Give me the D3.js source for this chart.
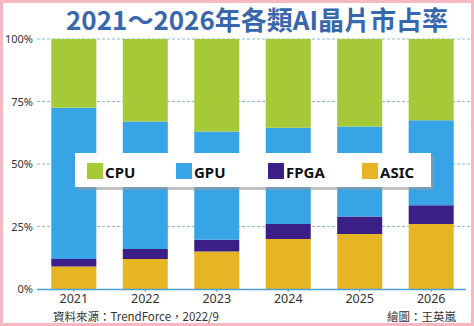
<!DOCTYPE html>
<html>
<head>
<meta charset="utf-8">
<script src="https://cdn.jsdelivr.net/npm/d3@7"></script>
<style>
  body { margin: 0; background: #fff; }
  svg { display: block; }
</style>
</head>
<body>
<div id="vis-container"></div>
<script>
var years = ["2021", "2022", "2023", "2024", "2025", "2026"];
var asic = [9, 12, 15, 20, 22, 26];
var fpga = [3, 4, 4.7, 6, 7, 7.5];
var gpu = [60.5, 51, 43.3, 38.5, 36, 34];
var cpu = [27.5, 33, 37, 35.5, 35, 32.5];
var seriesNames = ["ASIC", "FPGA", "GPU", "CPU"];
var legendNames = ["CPU", "GPU", "FPGA", "ASIC"];
var yTicks = [0, 25, 50, 75, 100];

var colors = { CPU: "#a6ca37", GPU: "#37a4e6", FPGA: "#3b1f86", ASIC: "#e6b524" };

var W = 474, H = 326;
var svg = d3.select("#vis-container").append("svg")
  .attr("width", W).attr("height", H);

// pink frame
svg.append("rect").attr("x", 1.5).attr("y", 1.5).attr("width", W - 3).attr("height", H - 3)
  .attr("fill", "none").attr("stroke", "#f6b9c2").attr("stroke-width", 3);

svg.append("text")
  .attr("x", 257).attr("y", 30)
  .attr("text-anchor", "middle")
  .style("font-family", "'Noto Sans CJK TC', sans-serif")
  .style("font-weight", "bold")
  .style("font-size", "26px")
  .style("fill", "#3767ad")
  .text("2021～2026年各類AI晶片市占率");

var xScale = d3.scaleBand().domain(years).range([37, 468]).paddingInner(0.37).paddingOuter(0.2);
var yScale = d3.scaleLinear().domain([0, 100]).range([289, 39]);

// gridlines
svg.append("g").selectAll("line").data(yTicks.slice(1)).enter().append("line")
  .attr("x1", 37).attr("x2", 470)
  .attr("y1", function(d) { return yScale(d); })
  .attr("y2", function(d) { return yScale(d); })
  .attr("stroke", "#8fb8d8").attr("stroke-width", 1).attr("stroke-dasharray", "3,2");

// y tick labels
svg.append("g").selectAll("text").data(yTicks).enter().append("text")
  .attr("x", 33).attr("y", function(d) { return yScale(d) + 4; })
  .attr("text-anchor", "end")
  .style("font-family", "'Noto Sans', sans-serif")
  .style("font-size", "11px")
  .style("fill", "#333")
  .text(function(d) { return d + "%"; });

var table = years.map(function(y, i) {
  return { year: y, ASIC: asic[i], FPGA: fpga[i], GPU: gpu[i], CPU: cpu[i] };
});
var stack = d3.stack().keys(seriesNames)(table);

svg.append("g").selectAll("g").data(stack).enter().append("g")
  .attr("fill", function(d) { return colors[d.key]; })
  .selectAll("rect").data(function(d) { return d; }).enter().append("rect")
  .attr("x", function(d) { return xScale(d.data.year); })
  .attr("width", xScale.bandwidth())
  .attr("y", function(d) { return yScale(d[1]); })
  .attr("height", function(d) { return yScale(d[0]) - yScale(d[1]); });

// x axis
var xAxis = svg.append("g").attr("transform", "translate(0,289)")
  .call(d3.axisBottom(xScale).tickSize(3).tickPadding(2).tickSizeOuter(0));
xAxis.select(".domain").attr("stroke", "#4a9fd6").attr("stroke-width", 1.5)
  .attr("d", "M37,0.5H466");
xAxis.selectAll(".tick line").attr("stroke", "#4a9fd6");
xAxis.selectAll(".tick text")
  .style("font-family", "'Noto Sans', sans-serif")
  .style("font-size", "12.5px")
  .style("fill", "#333");

// legend box
svg.append("rect").attr("x", 78).attr("y", 156).attr("width", 356).attr("height", 34)
  .attr("fill", "#9a9a9a").attr("opacity", 0.6);
svg.append("rect").attr("x", 75).attr("y", 153).attr("width", 356).attr("height", 34)
  .attr("fill", "#fff");

var legendX = [87, 176, 268, 362];
var lg = svg.append("g").selectAll("g").data(legendNames).enter().append("g")
  .attr("transform", function(d, i) { return "translate(" + legendX[i] + ",163)"; });
lg.append("rect").attr("width", 16).attr("height", 16)
  .attr("fill", function(d) { return colors[d]; });
lg.append("text").attr("x", 18).attr("y", 14.5)
  .style("font-family", "'Noto Sans', sans-serif")
  .style("font-weight", "bold")
  .style("font-size", "15px")
  .style("fill", "#111")
  .text(function(d) { return d; });

// footer
svg.append("text").attr("x", 53).attr("y", 320.5)
  .style("font-family", "'Noto Sans CJK TC', sans-serif")
  .style("font-size", "11.5px").style("fill", "#333")
  .text("資料來源：TrendForce，2022/9");
svg.append("text").attr("x", 456).attr("y", 320.5)
  .attr("text-anchor", "end")
  .style("font-family", "'Noto Sans CJK TC', sans-serif")
  .style("font-size", "11.5px").style("fill", "#333")
  .text("繪圖：王英嵐");
</script>
</body>
</html>
